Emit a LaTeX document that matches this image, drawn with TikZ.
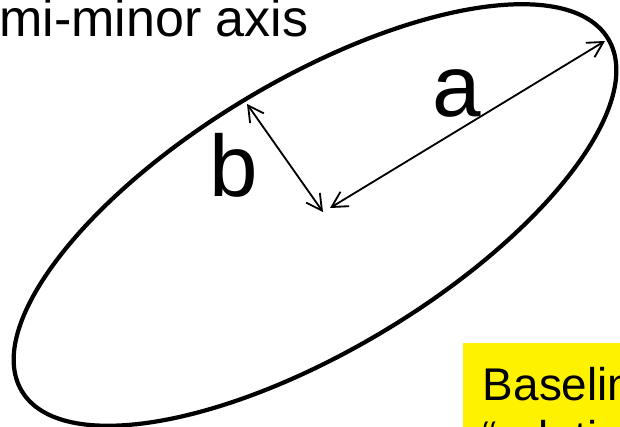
\documentclass[tikz,border=0pt]{standalone}
\usepackage{fontspec}
\setmainfont{Liberation Sans}
\usetikzlibrary{arrows.meta, positioning}

\begin{document}
\begin{tikzpicture}[
        x=0.025cm, y=-0.025cm,
        outline/.style={line width=3pt},
        axisarrow/.style={{Straight Barb[length=11pt,width=12pt]}-{Straight Barb[length=11pt,width=12pt]}, line width=1.3pt},
        axislabel/.style={anchor=base, inner sep=0pt, font=\fontsize{62pt}{70pt}\selectfont},
        caption/.style={anchor=base west, inner sep=0pt, font=\fontsize{37pt}{42pt}\selectfont},
        notebox/.style={fill=yellow, anchor=north west, align=left,
                     inner xsep=14pt, inner ysep=17pt,
                     font=\fontsize{32.6pt}{37.6pt}\selectfont}
    ]
        \useasboundingbox (0,0) rectangle (620,427);
        \clip (0,0) rectangle (620,427);
        % ellipse and its axes
        \coordinate (ctr) at (315,215);
        \coordinate (afoot) at (330,208);
        \coordinate (atip) at (605,41);
        \coordinate (bfoot) at (323,212);
        \coordinate (btip) at (247,104);
        \draw[outline, rotate around={31:(ctr)}] (ctr) ellipse [x radius=342, y radius=135];
        \draw[axisarrow] (afoot) -- (atip);
        \draw[axisarrow] (btip) -- (bfoot);
        \node[axislabel] (alabel) at (457,117) {a};
        \node[axislabel] (blabel) at (234,197) {b};
        % texts cut by the frame
        \node[caption] (minor) at (-1,37) {mi-minor axis};
        \node[notebox] (baseline) at (463,343) {Baselin\\“relati};
    \end{tikzpicture}
\end{document}
